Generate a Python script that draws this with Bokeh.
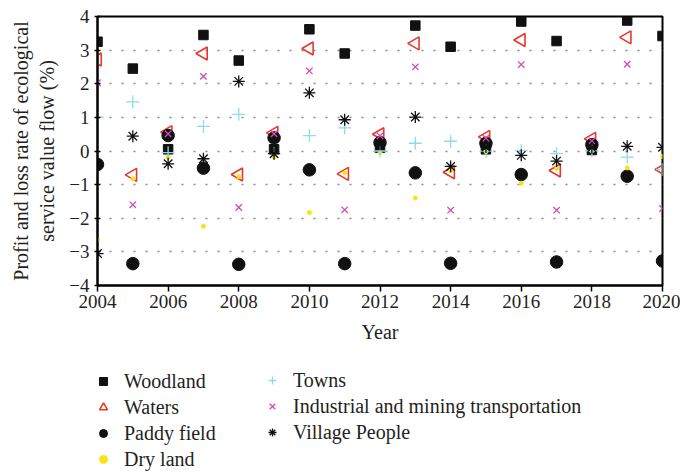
import math
from bokeh.plotting import figure
from bokeh.layouts import column
from bokeh.models import Range1d, Legend, LegendItem, FixedTicker
from bokeh.embed import file_html
from bokeh.resources import INLINE

years = list(range(2004, 2021))
woodland = [3.25, 2.45, 0.05, 3.45, 2.69, 0.05, 3.62, 2.90, 0.10, 3.73, 3.10, 0.05, 3.85, 3.27, 0.03, 3.88, 3.42]
waters = [2.72, -0.71, 0.56, 2.90, -0.70, 0.54, 3.05, -0.68, 0.50, 3.20, -0.63, 0.42, 3.30, -0.58, 0.36, 3.38, -0.55]
paddy = [-0.40, -3.35, 0.46, -0.51, -3.37, 0.39, -0.56, -3.35, 0.25, -0.65, -3.34, 0.23, -0.70, -3.30, 0.19, -0.75, -3.27]
dry_land = [-2.64, -0.83, -0.18, -2.24, -0.76, -0.18, -1.83, -0.65, -0.05, -1.40, -0.58, -0.02, -0.96, -0.52, 0.00, -0.50, -0.16]
towns = [1.01, 1.46, -0.05, 0.73, 1.09, -0.08, 0.46, 0.69, 0.00, 0.23, 0.29, 0.00, 0.01, -0.08, 0.00, -0.18, -0.55]
industrial = [2.03, -1.60, 0.51, 2.22, -1.68, 0.51, 2.38, -1.75, 0.45, 2.50, -1.76, 0.38, 2.57, -1.76, 0.30, 2.58, -1.71]
village = [-3.05, 0.44, -0.38, -0.23, 2.07, -0.08, 1.73, 0.93, 0.20, 1.01, -0.46, 0.12, -0.13, -0.30, 0.10, 0.14, 0.11]

x_ticks = [2004, 2006, 2008, 2010, 2012, 2014, 2016, 2018, 2020]
y_ticks = [-4, -3, -2, -1, 0, 1, 2, 3, 4]
y_tick_labels = ["\u22124", "\u22123", "\u22122", "\u22121", "0", "1", "2", "3", "4"]

FONT = "Liberation Serif"
TXT = "#231f20"

styles = {
    "Woodland": dict(marker="square", size=9.5, fill_color="#111111", line_color="#111111"),
    "Waters": dict(marker="triangle", size=13, angle=math.pi / 2, fill_color=None,
                   line_color="#e8382c", line_width=1.6),
    "Paddy field": dict(marker="circle", size=12.5, fill_color="#111111", line_color="#111111"),
    "Dry land": dict(marker="circle", size=4, fill_color="#f7e414", line_color="#f7e414"),
    "Towns": dict(marker="cross", size=13, line_color="#94d8ea", line_width=1.3),
    "Industrial and mining transportation": dict(marker="x", size=9, line_color="#d24bb8", line_width=1.3),
    "Village People": dict(marker="asterisk", size=12, line_color="#111111", line_width=1.3),
}
series = {
    "Woodland": woodland, "Waters": waters, "Paddy field": paddy, "Dry land": dry_land,
    "Towns": towns, "Industrial and mining transportation": industrial, "Village People": village,
}

p = figure(width=680, height=355, x_range=Range1d(2004, 2020), y_range=Range1d(-4, 4),
           output_backend="svg", toolbar_location=None,
           min_border_left=97, min_border_right=18, min_border_top=16, min_border_bottom=70)

p.outline_line_color = "black"
p.outline_line_width = 2
p.xgrid.visible = False
p.ygrid.ticker = FixedTicker(ticks=y_ticks)
p.ygrid.grid_line_color = "#8a8a8a"
p.ygrid.grid_line_dash = "2 10"
p.ygrid.grid_line_width = 1.5

for ax in (p.xaxis[0], p.yaxis[0]):
    ax.axis_line_color = "black"
    ax.axis_line_width = 2
    ax.major_tick_line_color = "black"
    ax.major_tick_line_width = 1.5
    ax.minor_tick_line_color = None
    ax.major_label_text_font = FONT
    ax.major_label_text_font_size = "19px"
    ax.major_label_text_color = TXT
    ax.axis_label_text_font = FONT
    ax.axis_label_text_font_size = "20px"
    ax.axis_label_text_font_style = "normal"
    ax.axis_label_text_color = TXT

p.xaxis.ticker = FixedTicker(ticks=x_ticks)
p.xaxis.major_tick_in = 0
p.xaxis.major_tick_out = 6
p.xaxis.major_label_standoff = 3
p.xaxis.axis_label = "Year"
p.xaxis.axis_label_standoff = 10

p.yaxis.ticker = FixedTicker(ticks=y_ticks)
p.yaxis.major_label_overrides = {t: l for t, l in zip(y_ticks, y_tick_labels)}
p.yaxis.major_tick_in = 3
p.yaxis.major_tick_out = 3
p.yaxis.major_label_standoff = 5
p.yaxis.axis_label = "Profit and loss rate of ecological\nservice value flow (%)"
p.yaxis.axis_label_standoff = 8

for name, vals in series.items():
    p.scatter(years, vals, **styles[name])

# Legend area: a second, axis-less figure; its copies of the series lie outside its view
p2 = figure(width=680, height=120, output_backend="svg", toolbar_location=None,
            x_axis_location=None, y_axis_location=None,
            min_border_left=97, min_border_right=18, min_border_top=0, min_border_bottom=0,
            x_range=Range1d(0, 1), y_range=Range1d(0, 1))
p2.grid.visible = False
p2.outline_line_color = None
leg_r = {name: p2.scatter(years, vals, **styles[name]) for name, vals in series.items()}

common = dict(orientation="vertical", border_line_color=None, background_fill_alpha=0,
              label_text_font=FONT, label_text_font_size="20px", label_text_color=TXT,
              glyph_width=20, glyph_height=20, label_height=20, label_standoff=11,
              spacing=3, padding=0, margin=0)
col1 = ["Woodland", "Waters", "Paddy field", "Dry land"]
col2 = ["Towns", "Industrial and mining transportation", "Village People"]
leg1 = Legend(items=[LegendItem(label=n, renderers=[leg_r[n]]) for n in col1], location=(-4, 4.5), **common)
leg2 = Legend(items=[LegendItem(label=n, renderers=[leg_r[n]]) for n in col2], location=(165, 31.5), **common)
p2.add_layout(leg1)
p2.add_layout(leg2)

open("out.html", "w").write(file_html(column(p, p2), INLINE))
